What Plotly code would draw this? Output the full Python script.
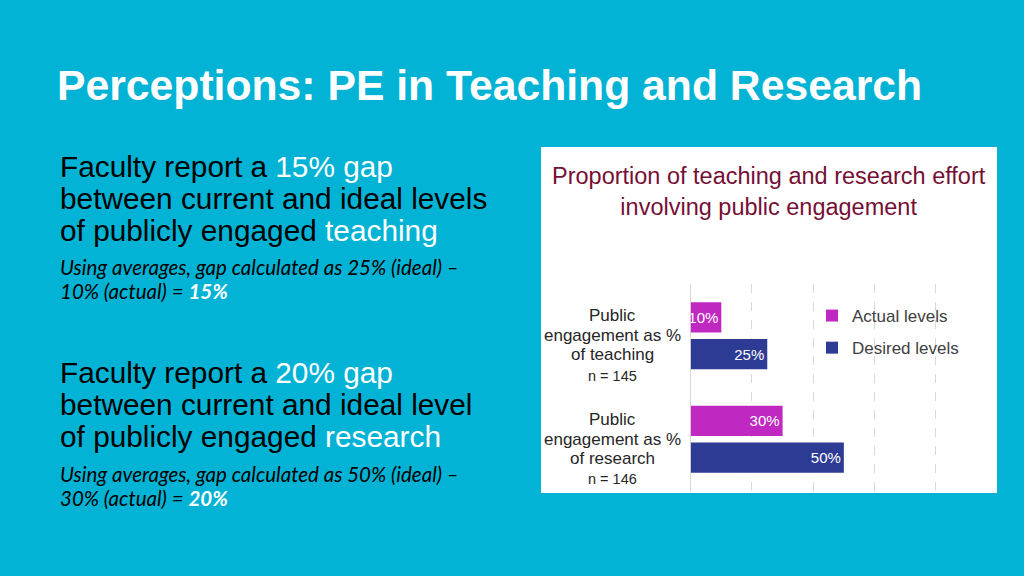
import plotly.graph_objects as go

# ---- data ----
category_keys = ["teaching", "research"]
category_lines = [["Public", "engagement as %", "of teaching"],
                  ["Public", "engagement as %", "of research"]]
sample_sizes = [145, 146]
series_names = ["Actual levels", "Desired levels"]
actual_levels = [0.10, 0.30]
desired_levels = [0.25, 0.50]

slide_title = "Perceptions: PE in Teaching and Research"
chart_title = "Proportion of teaching and research effort<br>involving public engagement"

BG = "#02B3D5"
MAGENTA = "#BF28C1"
NAVY = "#2E3B95"
MAROON = "#760F35"
W, H = 1024, 576
FONT = "Liberation Sans, Arial, sans-serif"

def px(x):
    return x / W

def py(y):
    return 1 - y / H

fig = go.Figure()
for name, vals, col in [(series_names[0], actual_levels, MAGENTA),
                        (series_names[1], desired_levels, NAVY)]:
    fig.add_trace(go.Bar(
        name=name, y=category_keys, x=vals, orientation="h",
        marker=dict(color=col, line=dict(width=0)),
        texttemplate="%{x:.0%}", textposition="inside",
        insidetextanchor="end", constraintext="none", textangle=0,
        textfont=dict(color="white", size=15, family=FONT),
        legendgroup=name,
    ))

annotations = []
# slide title
annotations.append(dict(text=slide_title, x=px(55), y=py(85), xref="paper", yref="paper",
                        xanchor="left", yanchor="middle", showarrow=False,
                        font=dict(family=FONT, size=42.7, color="white", weight="bold")))

W_SPAN = "<span style='color:white'>%s</span>"
left_lines = [
    ("Faculty report a " + W_SPAN % "15% gap", 166, "main"),
    ("between current and ideal levels", 198, "main"),
    ("of publicly engaged " + W_SPAN % "teaching", 230, "main"),
    ("Using averages, gap calculated as 25% (ideal) –", 267, "it"),
    ("10% (actual) = <b style='color:white'>15%</b>", 291, "it"),
    ("Faculty report a " + W_SPAN % "20% gap", 372, "main"),
    ("between current and ideal level", 404, "main"),
    ("of publicly engaged " + W_SPAN % "research", 436, "main"),
    ("Using averages, gap calculated as 50% (ideal) –", 474, "it"),
    ("30% (actual) = <b style='color:white'>20%</b>", 498, "it"),
]
for txt, ypos, kind in left_lines:
    if kind == "main":
        f = dict(family=FONT, size=29.8, color="black")
    else:
        f = dict(family="Lato, sans-serif", size=20.5, color="black", style="italic")
    annotations.append(dict(text=txt, x=px(58), y=py(ypos), xref="paper", yref="paper",
                            xanchor="left", yanchor="middle", showarrow=False, font=f))

# chart title
annotations.append(dict(text=chart_title, x=px(769), y=py(192), xref="paper", yref="paper",
                        xanchor="center", yanchor="middle", showarrow=False, align="center",
                        font=dict(family=FONT, size=23.5, color=MAROON)))

# category labels (one annotation per line to control spacing)
line_shifts = [20, 0, -19]
for key, lines, n in zip(category_keys, category_lines, sample_sizes):
    for ln, sh in zip(lines, line_shifts):
        annotations.append(dict(text=ln, x=px(612), y=key, xref="paper", yref="y",
                                xanchor="center", yanchor="middle", yshift=sh,
                                showarrow=False,
                                font=dict(family=FONT, size=17, color="#262626")))
    annotations.append(dict(text="n = %d" % n, x=px(612), y=key, xref="paper", yref="y",
                            xanchor="center", yanchor="middle", yshift=-40,
                            showarrow=False,
                            font=dict(family=FONT, size=14.5, color="#262626")))

fig.update_layout(
    width=W, height=H,
    margin=dict(l=0, r=0, t=0, b=0),
    paper_bgcolor=BG, plot_bgcolor="rgba(0,0,0,0)",
    barmode="group", bargap=0.292, bargroupgap=0.172,
    showlegend=True,
    legend=dict(x=px(812), y=py(298), xanchor="left", yanchor="top",
                bgcolor="rgba(0,0,0,0)", traceorder="grouped", tracegroupgap=7,
                font=dict(family=FONT, size=17, color="#404040")),
    shapes=[dict(type="rect", xref="paper", yref="paper", layer="below",
                 x0=px(541), x1=px(997), y0=py(493), y1=py(147),
                 fillcolor="white", line=dict(width=0))],
    annotations=annotations,
    xaxis=dict(domain=[px(690.7), px(997)], range=[0, 1], dtick=0.2,
               showticklabels=False, ticks="", showgrid=True, gridcolor="#D9D9D9",
               griddash="dash", gridwidth=1, zeroline=True, zerolinecolor="#D9D9D9",
               zerolinewidth=1, showline=False, fixedrange=True),
    yaxis=dict(domain=[py(491), py(284)], autorange="reversed", showticklabels=False,
               ticks="", showgrid=False, zeroline=False, showline=False, fixedrange=True),
)

fig.write_html("out.html", config={"displayModeBar": False},
               post_script="document.body.style.margin='0';")
